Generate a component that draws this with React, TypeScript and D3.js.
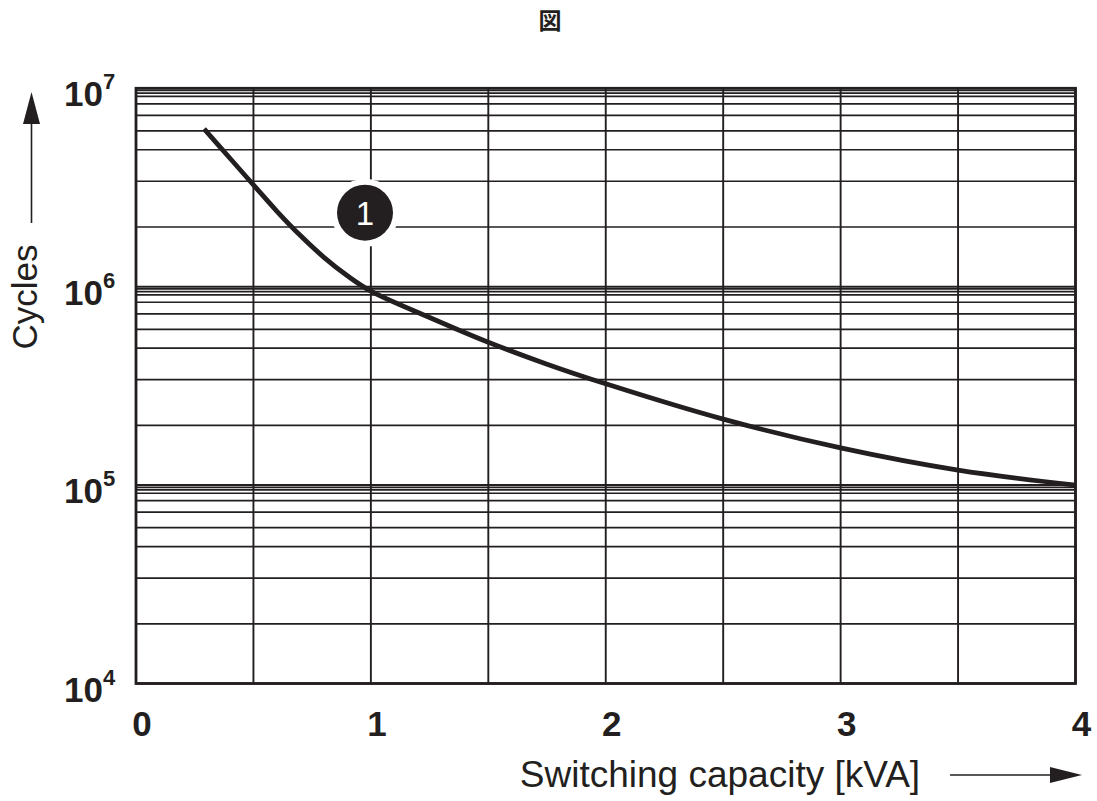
import React from "react";
import * as d3 from "d3";

const title = "図";
const xLabel = "Switching capacity [kVA]";
const yLabel = "Cycles";
const xTicks = [0, 1, 2, 3, 4];
const xGrid = [0, 0.5, 1, 1.5, 2, 2.5, 3, 3.5, 4];
const yDecades = [1e4, 1e5, 1e6, 1e7];
const yDecadeExps = [4, 5, 6, 7];
const yMinorFactors = [2.0, 3.4, 4.9, 6.1, 7.3, 8.35, 9.1, 9.45, 9.75];
const curveX = [0.29, 0.4, 0.5, 0.6, 0.7, 0.8, 0.9, 1.0, 1.25, 1.5, 1.75, 2.0, 2.5, 3.0, 3.5, 4.0];
const curveY = [6.24e6, 4.44e6, 3.26e6, 2.4e6, 1.81e6, 1.406e6, 1.135e6, 9.5e5, 7.0e5, 5.25e5, 4.07e5, 3.24e5, 2.15e5, 1.54e5, 1.19e5, 1.0e5];
const markerLabel = "1";
const markerPos = { x: 0.975, y: 2.36e6 };

const W = 1097;
const H = 801;
const INK = "#231f20";
const FONT = "'Liberation Sans', Arial, Helvetica, sans-serif";

export default function App() {
  const x = d3.scaleLinear().domain([0, 4]).range([136, 1075.5]);
  const y = d3.scaleLog().domain([1e4, 1e7]).range([683.5, 88.3]);

  const minorVals: number[] = [];
  yDecades.slice(0, 3).forEach((d) => yMinorFactors.forEach((f) => minorVals.push(d * f)));

  const line = d3
    .line<number>()
    .x((_, i) => x(curveX[i]))
    .y((d) => y(d))
    .curve(d3.curveCatmullRom.alpha(0.5));
  const path = line(curveY) || "";

  const mx = x(markerPos.x);
  const my = y(markerPos.y);

  return (
    <svg width={W} height={H} style={{ position: "absolute", left: 0, top: 0, background: "#fff" }}>
      <text x={550} y={29} textAnchor="middle" fontFamily="'Noto Sans CJK JP', sans-serif" fontWeight={700} fontSize={23} fill={INK}>
        {title}
      </text>
      {minorVals.map((v, i) => (
        <line key={"m" + i} x1={x(0)} x2={x(4)} y1={y(v)} y2={y(v)} stroke={INK} strokeWidth={1.7} />
      ))}
      {yDecades.map((v, i) => (
        <line key={"d" + i} x1={x(0)} x2={x(4)} y1={y(v)} y2={y(v)} stroke={INK} strokeWidth={2} />
      ))}
      {xGrid.map((v, i) => (
        <line key={"v" + i} x1={x(v)} x2={x(v)} y1={y(1e7)} y2={y(1e4)} stroke={INK} strokeWidth={1.9} />
      ))}
      <rect x={x(0)} y={y(1e7)} width={x(4) - x(0)} height={y(1e4) - y(1e7)} fill="none" stroke={INK} strokeWidth={2.8} />
      <path d={path} fill="none" stroke={INK} strokeWidth={4.8} />
      <circle cx={mx} cy={my} r={34} fill="#fff" />
      <circle cx={mx} cy={my} r={28} fill={INK} />
      <text x={mx} y={my + 12} textAnchor="middle" fontFamily={FONT} fontSize={33} fill="#fff">
        {markerLabel}
      </text>
      {yDecades.map((v, i) => (
        <text key={"yl" + i} x={64} y={y(v) + 18} fontFamily={FONT} fontWeight={700} fontSize={35} fill={INK}>
          10
          <tspan dy={-17} fontSize={22}>
            {yDecadeExps[i]}
          </tspan>
        </text>
      ))}
      {xTicks.map((v, i) => (
        <text key={"xl" + i} x={x(v) + 6} y={736} textAnchor="middle" fontFamily={FONT} fontWeight={700} fontSize={35} fill={INK}>
          {v}
        </text>
      ))}
      <text x={720} y={787} textAnchor="middle" fontFamily={FONT} fontSize={37} fill={INK}>
        {xLabel}
      </text>
      <line x1={950} x2={1052} y1={775} y2={775} stroke={INK} strokeWidth={1.6} />
      <path d="M1050,767 L1082,775 L1050,783 Z" fill={INK} />
      <text transform="translate(37,297) rotate(-90)" textAnchor="middle" fontFamily={FONT} fontSize={35} fill={INK}>
        {yLabel}
      </text>
      <line x1={31.5} x2={31.5} y1={223} y2={122} stroke={INK} strokeWidth={1.6} />
      <path d="M23,124 L31.5,92 L40,124 Z" fill={INK} />
    </svg>
  );
}
